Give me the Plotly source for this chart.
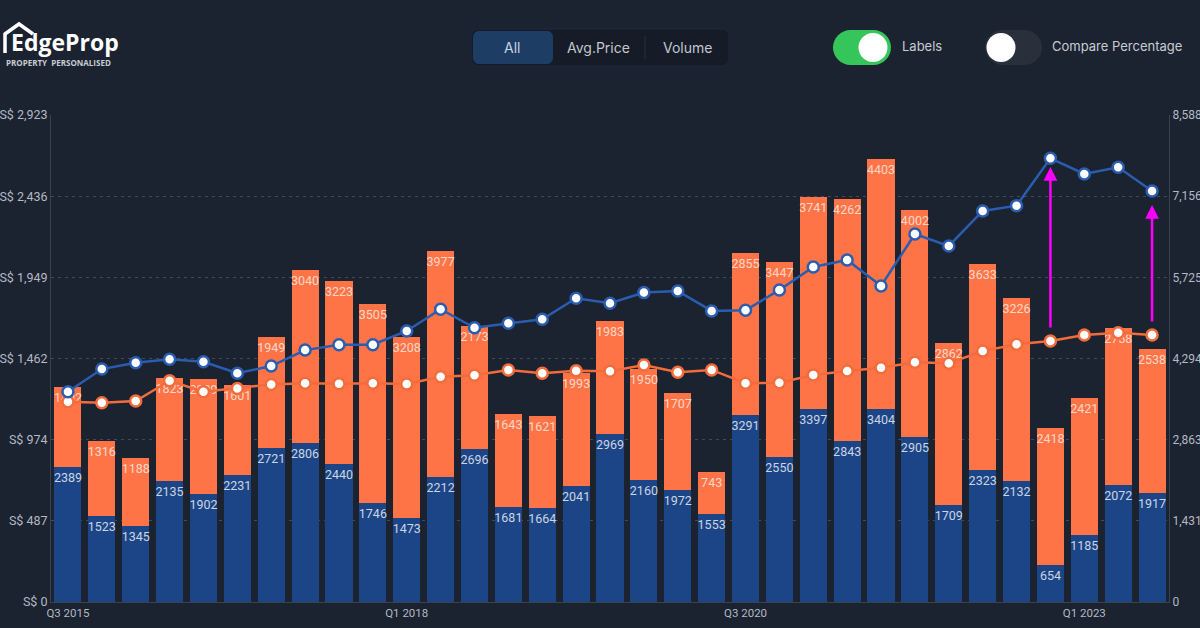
import plotly.graph_objects as go

# ---------------- data ----------------
quarters = ["Q3 2015", "Q4 2015", "Q1 2016", "Q2 2016", "Q3 2016", "Q4 2016",
            "Q1 2017", "Q2 2017", "Q3 2017", "Q4 2017", "Q1 2018", "Q2 2018",
            "Q3 2018", "Q4 2018", "Q1 2019", "Q2 2019", "Q3 2019", "Q4 2019",
            "Q1 2020", "Q2 2020", "Q3 2020", "Q4 2020", "Q1 2021", "Q2 2021",
            "Q3 2021", "Q4 2021", "Q1 2022", "Q2 2022", "Q3 2022", "Q4 2022",
            "Q1 2023", "Q2 2023", "Q3 2023"]

volume_blue = [2389, 1523, 1345, 2135, 1902, 2231, 2721, 2806, 2440, 1746, 1473,
               2212, 2696, 1681, 1664, 2041, 2969, 2160, 1972, 1553, 3291, 2550,
               3397, 2843, 3404, 2905, 1709, 2323, 2132, 654, 1185, 2072, 1917]
volume_orange = [1402, 1316, 1188, 1823, 2039, 1601, 1949, 3040, 3223, 3505, 3208,
                 3977, 2173, 1643, 1621, 1993, 1983, 1950, 1707, 743, 2855, 3447,
                 3741, 4262, 4403, 4002, 2862, 3633, 3226, 2418, 2421, 2758, 2538]

price_blue = [1262, 1398, 1436, 1457, 1442, 1373, 1416, 1512, 1544, 1544, 1627,
              1757, 1646, 1673, 1697, 1823, 1793, 1857, 1867, 1747, 1751, 1873,
              2011, 2053, 1897, 2209, 2137, 2347, 2379, 2663, 2569, 2609, 2467]
price_orange = [1202, 1196, 1206, 1328, 1262, 1282, 1306, 1313, 1310, 1313, 1308,
                1352, 1361, 1393, 1373, 1388, 1385, 1423, 1379, 1393, 1313, 1316,
                1362, 1386, 1406, 1439, 1433, 1506, 1547, 1567, 1603, 1616, 1603]

price_ticks = [0, 487, 974, 1462, 1949, 2436, 2923]
price_ticktext = ["S$ 0", "S$ 487", "S$ 974", "S$ 1,462", "S$ 1,949", "S$ 2,436", "S$ 2,923"]
volume_ticks = [0, 1431, 2863, 4294, 5725, 7156, 8588]
volume_ticktext = ["0", "1,431", "2,863", "4,294", "5,725", "7,156", "8,588"]
x_ticks = ["Q3 2015", "Q1 2018", "Q3 2020", "Q1 2023"]

# arrows (category, price value at head, tail offset px)
arrow_points = [("Q4 2022", 2611, 162), ("Q3 2023", 2383, 118)]

# ---------------- style ----------------
BG = "#1b2230"
BLUE_BAR = "#1c4587"
ORANGE_BAR = "#fe7446"
BLUE_LINE = "#2a5db0"
ORANGE_LINE = "#f26c3c"
GRID = "rgba(255,255,255,0.18)"
TICK_COLOR = "#b4b9c3"
FONT = "Roboto"

W, H = 1200, 628
L, R, T, B = 51, 31, 115, 26
PW, PH = W - L - R, H - T - B


def px(x):
    return (x - L) / PW


def py(y):
    return (H - B - y) / PH


fig = go.Figure()

fig.add_trace(go.Bar(
    x=quarters, y=volume_blue, name="Volume A", marker=dict(color=BLUE_BAR, line=dict(width=0)),
    text=[str(v) for v in volume_blue], textposition="inside", insidetextanchor="end",
    textangle=0, constraintext="none",
    textfont=dict(family=FONT, size=12.5, color="rgba(255,255,255,0.78)"),
    yaxis="y", hoverinfo="skip"))
fig.add_trace(go.Bar(
    x=quarters, y=volume_orange, name="Volume B", marker=dict(color=ORANGE_BAR, line=dict(width=0)),
    text=[str(v) for v in volume_orange], textposition="inside", insidetextanchor="end",
    textangle=0, constraintext="none",
    textfont=dict(family=FONT, size=12.5, color="rgba(255,255,255,0.72)"),
    yaxis="y", hoverinfo="skip"))

fig.add_trace(go.Scatter(
    x=quarters, y=price_orange, mode="lines+markers", yaxis="y2",
    line=dict(color=ORANGE_LINE, width=2.5),
    marker=dict(size=11, color="white", line=dict(color=ORANGE_LINE, width=2.5)),
    cliponaxis=False))
fig.add_trace(go.Scatter(
    x=quarters, y=price_blue, mode="lines+markers", yaxis="y2",
    line=dict(color=BLUE_LINE, width=2.5),
    marker=dict(size=11, color="white", line=dict(color=BLUE_LINE, width=2.5)),
    cliponaxis=False))

fig.update_layout(
    width=W, height=H, paper_bgcolor=BG, plot_bgcolor=BG,
    margin=dict(l=L, r=R, t=T, b=B), showlegend=False,
    barmode="stack", bargap=0.2,
    font=dict(family=FONT, color=TICK_COLOR),
    xaxis=dict(type="category", range=[-0.5, len(quarters) - 0.5], tickvals=x_ticks, ticktext=x_ticks,
               showgrid=False, showline=True, linecolor="#3a414f", linewidth=1, ticks="",
               tickfont=dict(size=11.5, color=TICK_COLOR), automargin=False),
    yaxis=dict(side="right", range=[0, 8588], tickvals=volume_ticks, ticktext=volume_ticktext,
               showgrid=False, zeroline=False, showline=True, linecolor="#3a414f",
               ticks="", tickfont=dict(size=12, color=TICK_COLOR), automargin=False),
    yaxis2=dict(side="left", overlaying="y", range=[0, 2923], tickvals=price_ticks,
                ticktext=price_ticktext, showgrid=True, gridcolor=GRID, griddash="3px,4px",
                zeroline=False, showline=True, linecolor="#3a414f", ticks="",
                tickfont=dict(size=12.5, color=TICK_COLOR), automargin=False),
)

shapes = []
annotations = []


def rrect_path(x0, y0, x1, y1, r):
    k = 0.5523 * r

    def P(x, y):
        return f"{px(x):.5f},{py(y):.5f}"
    path = (f"M{P(x0 + r, y0)} L{P(x1 - r, y0)} "
            f"C{P(x1 - r + k, y0)} {P(x1, y0 + r - k)} {P(x1, y0 + r)} "
            f"L{P(x1, y1 - r)} "
            f"C{P(x1, y1 - r + k)} {P(x1 - r + k, y1)} {P(x1 - r, y1)} "
            f"L{P(x0 + r, y1)} "
            f"C{P(x0 + r - k, y1)} {P(x0, y1 - r + k)} {P(x0, y1 - r)} "
            f"L{P(x0, y0 + r)} "
            f"C{P(x0, y0 + r - k)} {P(x0 + r - k, y0)} {P(x0 + r, y0)} Z")
    return path


def circle(cx, cy, r, color):
    return dict(type="circle", xref="paper", yref="paper",
                x0=px(cx - r), x1=px(cx + r), y0=py(cy + r), y1=py(cy - r),
                fillcolor=color, line=dict(width=0), layer="above")


# segmented button group
shapes.append(dict(type="path", xref="paper", yref="paper", path=rrect_path(471, 29, 729, 66, 7),
                   fillcolor="#151b27", line=dict(color="#1f2a3e", width=1), layer="above"))
shapes.append(dict(type="path", xref="paper", yref="paper", path=rrect_path(473, 31, 553, 64, 6),
                   fillcolor="#1d3d65", line=dict(width=0), layer="above"))
shapes.append(dict(type="line", xref="paper", yref="paper", x0=px(645), x1=px(645), y0=py(36), y1=py(59),
                   line=dict(color="#2a3140", width=1), layer="above"))
for label, cx, col in [("All", 512, "#c9d3e2"), ("Avg.Price", 598, "#c3c7cf"), ("Volume", 687, "#c3c7cf")]:
    annotations.append(dict(xref="paper", yref="paper", x=px(cx), y=py(47.5), text=label,
                            showarrow=False, xanchor="center", yanchor="middle",
                            font=dict(family="Inter", size=14, color=col)))

# toggles
shapes.append(dict(type="path", xref="paper", yref="paper", path=rrect_path(833, 30, 891, 65, 17.5),
                   fillcolor="#36c55a", line=dict(width=0), layer="above"))
shapes.append(circle(873, 47.5, 14.5, "#ffffff"))
annotations.append(dict(xref="paper", yref="paper", x=px(900), y=py(46), text="Labels",
                        showarrow=False, xanchor="left", yanchor="middle",
                        font=dict(family="Inter", size=13, color="#c9ccd3")))
shapes.append(dict(type="path", xref="paper", yref="paper", path=rrect_path(985, 30, 1042, 65, 17.5),
                   fillcolor="#2a2f3c", line=dict(width=0), layer="above"))
shapes.append(circle(1001, 47.5, 14.5, "#ffffff"))
annotations.append(dict(xref="paper", yref="paper", x=px(1050), y=py(46), text="Compare Percentage",
                        showarrow=False, xanchor="left", yanchor="middle",
                        font=dict(family="Inter", size=13, color="#c9ccd3")))

# logo
house = (f"M{px(5):.5f},{py(53):.5f} L{px(5):.5f},{py(34):.5f} L{px(19):.5f},{py(24):.5f} "
         f"L{px(33):.5f},{py(34):.5f}")
shapes.append(dict(type="path", xref="paper", yref="paper", path=house,
                   line=dict(color="#ffffff", width=3.5), layer="above"))
annotations.append(dict(xref="paper", yref="paper", x=px(9), y=py(42), text="<b>EdgeProp</b>",
                        showarrow=False, xanchor="left", yanchor="middle",
                        font=dict(family="Open Sans", size=23, color="#ffffff")))
annotations.append(dict(xref="paper", yref="paper", x=px(4), y=py(62), text="<b>PROPERTY  PERSONALISED</b>",
                        showarrow=False, xanchor="left", yanchor="middle",
                        font=dict(family="Open Sans", size=8, color="#c9ccd3")))

# magenta arrows
for cat, val, tail in arrow_points:
    annotations.append(dict(x=cat, y=val, xref="x", yref="y2", ax=0, ay=tail, axref="pixel", ayref="pixel",
                            text="", showarrow=True, arrowhead=2, arrowsize=1.1, arrowwidth=2.5,
                            arrowcolor="#ff00ff", standoff=0))

fig.update_layout(shapes=shapes, annotations=annotations)
fig.write_html("out.html", config={"displayModeBar": False},
               post_script="document.body.style.margin='0';document.body.style.background='#1b2230';")
